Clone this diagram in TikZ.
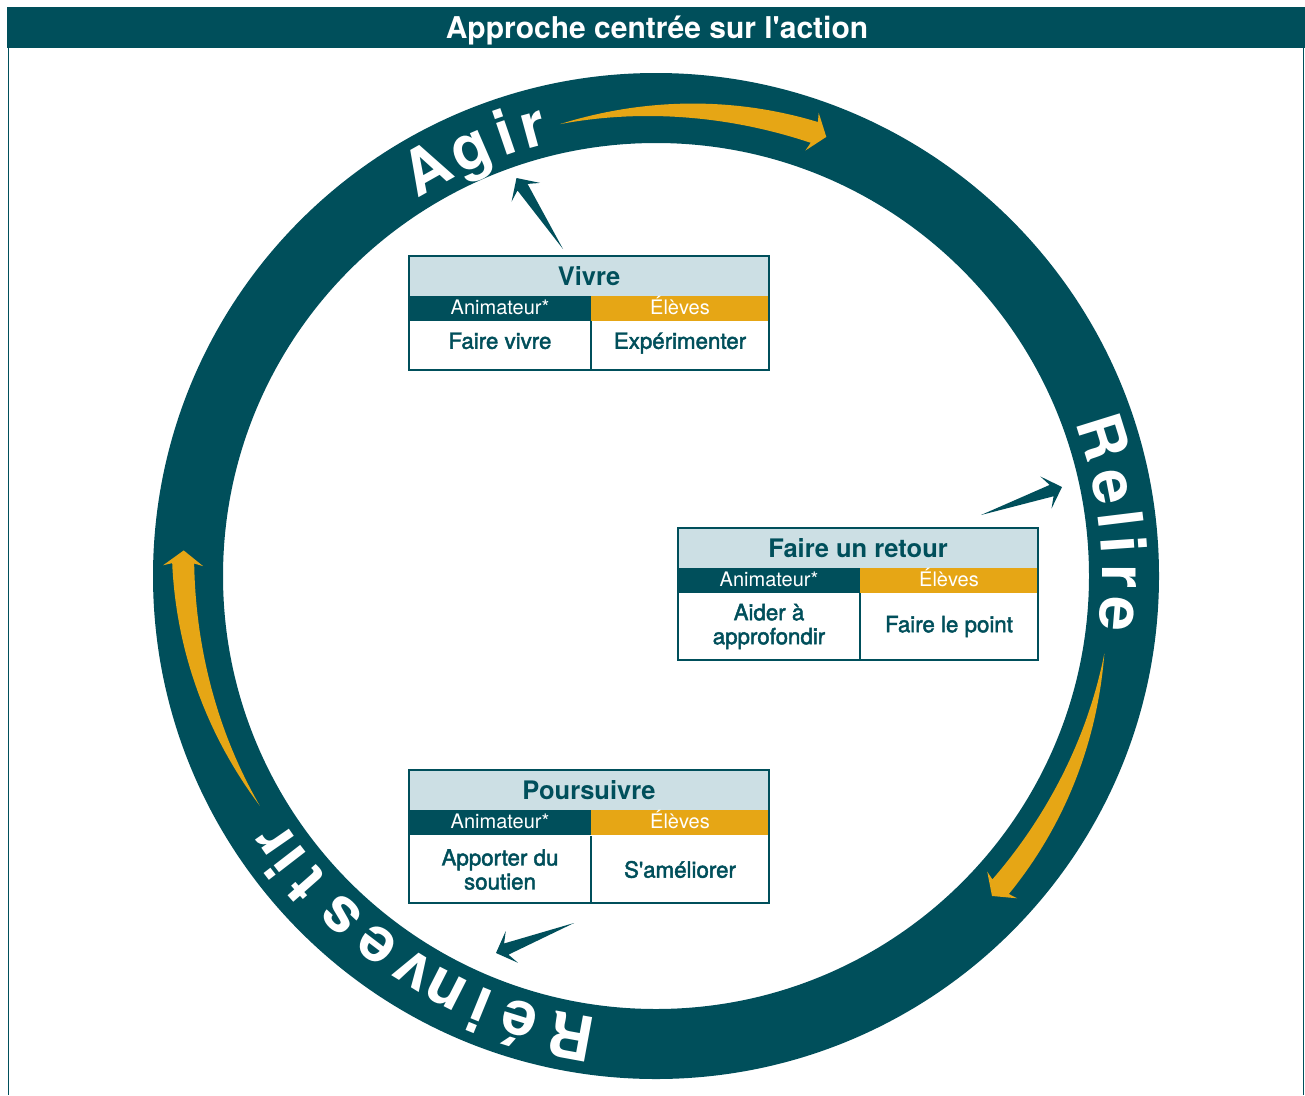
\documentclass[tikz,border=0pt]{standalone}
\usepackage{fontspec}
\setmainfont{TeX Gyre Heros}
\newfontfamily\medfont[FakeBold=2]{TeX Gyre Heros}
\usetikzlibrary{calc}
\definecolor{ateal}{RGB}{0,79,91}
\definecolor{agold}{RGB}{230,166,21}
\definecolor{alight}{RGB}{204,223,228}

\tikzset{
  hdr/.style={fill=alight, anchor=north west, minimum width=360, minimum height=40, inner sep=0, outer sep=0, text=ateal, font=\fontsize{25.5}{30}\selectfont\bfseries},
  roleA/.style={fill=ateal, anchor=north west, minimum width=182, minimum height=25, inner sep=0, outer sep=0, text height=15.5, text depth=3.5, text=white, font=\fontsize{20}{24}\selectfont},
  roleB/.style={roleA, fill=agold, minimum width=178},
  bodyA/.style={anchor=north west, minimum width=182, inner sep=0, outer sep=0, text=ateal, align=center, font=\medfont\fontsize{22.3}{24}\selectfont},
  bodyB/.style={bodyA, minimum width=178},
  oneline/.style={text height=16.5, text depth=10},
  tframe/.style={draw=ateal, line width=2.3},
  tsplit/.style={draw=ateal, line width=2.3},
  ringtxt/.style={anchor=base, text=white, inner sep=0, outer sep=0, font=\fontsize{62}{62}\selectfont\bfseries},
  frameline/.style={draw=ateal, line width=1.8}
}

\newcommand{\goldarrow}[4]{%
  \pgfmathsetmacro\gaA{#1}%
  \pgfmathsetmacro\gaJ{#3-1.55}%
  \pgfmathsetmacro\gaB{#3-1.85}%
  \pgfmathsetmacro\gaD{\gaJ-(\gaA)}%
  \pgfmathsetmacro\gaR{#2}%
  \pgfmathsetmacro\gaS{#4}%
  \pgfmathsetmacro\gaE{\gaS-(\gaR)}%
  \fill[agold] plot[variable=\gat,domain=0:1,samples=60] ({\gaA+\gaD*\gat}:{\gaR+\gaE*\gat+11*(0.35*\gat+0.65*sin(90*\gat))})
    -- (\gaB:{\gaS+20}) -- (#3:\gaS) -- (\gaB:{\gaS-20})
    -- plot[variable=\gat,domain=0:1,samples=60] ({\gaJ-\gaD*\gat}:{\gaS-\gaE*\gat-11*(0.35*(1-\gat)+0.65*sin(90*(1-\gat)))})
    -- cycle;}

\newcommand{\pointer}[2]{%
  \fill[ateal] (#1) -- ($(#2)!11pt!(#1)!6pt!90:(#1)$) -- ($(#2)!17pt!(#1)!17pt!90:(#1)$) -- (#2)
    -- ($(#2)!17pt!(#1)!17pt!-90:(#1)$) -- ($(#2)!11pt!(#1)!6pt!-90:(#1)$) -- cycle;}

\newcommand{\rl}[2]{\node[ringtxt, rotate={-90-(#1)}] at (#1:446) {#2};}

\begin{document}
\begin{tikzpicture}[x=1pt, y=-1pt]
\useasboundingbox (0,0) rectangle (1305,1095);
\fill[white] (0,0) rectangle (1305,1095);

% frame and title
\fill[ateal] (7,7) rectangle (1305,48);
\draw[frameline] (8.5,47) -- (8.5,1095);
\draw[frameline] (1303.5,47) -- (1303.5,1095);
\node[font=\fontsize{30}{36}\selectfont\bfseries, text=white, anchor=base, inner sep=0] (title) at (657,38.5) {Approche centrée sur l\textquotesingle action};

% ring
\fill[ateal, even odd rule] (656,576) circle[radius=503pt] (656,576) circle[radius=433pt];

\begin{scope}[shift={(656,576)}]
  % gold arrows
  \goldarrow{-102}{462}{-68.8}{471}
  \goldarrow{9.8}{455}{43.6}{464}
  \goldarrow{149.9}{458}{183.1}{473}
  % Agir
  \rl{-119.4}{A}\rl{-113.5}{g}\rl{-108.9}{i}\rl{-105.3}{r}
  % Relire
  \rl{-17.3}{R}\rl{-11.1}{e}\rl{-6.95}{l}\rl{-3.85}{i}\rl{0.1}{r}\rl{4.7}{e}
  % Reinvestir
  \rl{100.4}{R}\rl{107.2}{é}\rl{112.2}{i}\rl{117.0}{n}\rl{121.6}{v}\rl{127.2}{e}\rl{132.9}{s}\rl{138.6}{t}\rl{142.3}{i}\rl{145.3}{r}
\end{scope}

% table Vivre
\node[hdr] (vH) at (409,256) {Vivre};
\node[roleA] (vA) at (409,296) {Animateur*};
\node[roleB] (vB) at (591,296) {Élèves};
\node[bodyA, oneline, minimum height=49] (vC) at (409,321) {Faire vivre};
\node[bodyB, oneline, minimum height=49] (vD) at (591,321) {Expérimenter};
\draw[tframe] (vH.north west) rectangle (vD.south east);
\draw[tsplit] (vC.north east) -- (vC.south east);

% table Faire un retour
\node[hdr] (fH) at (678,528) {Faire un retour};
\node[roleA] (fA) at (678,568) {Animateur*};
\node[roleB] (fB) at (860,568) {Élèves};
\node[bodyA, minimum height=67] (fC) at (678,593) {Aider à\\approfondir};
\node[bodyB, minimum height=67] (fD) at (860,593) {Faire le point};
\draw[tframe] (fH.north west) rectangle (fD.south east);
\draw[tsplit] (fC.north east) -- (fC.south east);

% table Poursuivre
\node[hdr] (pH) at (409,770) {Poursuivre};
\node[roleA] (pA) at (409,810) {Animateur*};
\node[roleB] (pB) at (591,810) {Élèves};
\node[bodyA, minimum height=67] (pC) at (409,836) {Apporter du\\soutien};
\node[bodyB, minimum height=67] (pD) at (591,836) {S\textquotesingle améliorer};
\draw[tframe] (pH.north west) rectangle (pD.south east);
\draw[tsplit] (pC.north east) -- (pC.south east);

% pointer arrows
\coordinate (vTail) at ($(vH.north)+(-26,-7)$);
\coordinate (vTip) at (516.5,178);
\coordinate (fTail) at ($(fH.north)+(123,-13)$);
\coordinate (fTip) at (1062,487);
\coordinate (pTail) at ($(pD.south west)+(-17,20)$);
\coordinate (pTip) at (496,953);
\pointer{vTail}{vTip}
\pointer{fTail}{fTip}
\pointer{pTail}{pTip}
\end{tikzpicture}
\end{document}
